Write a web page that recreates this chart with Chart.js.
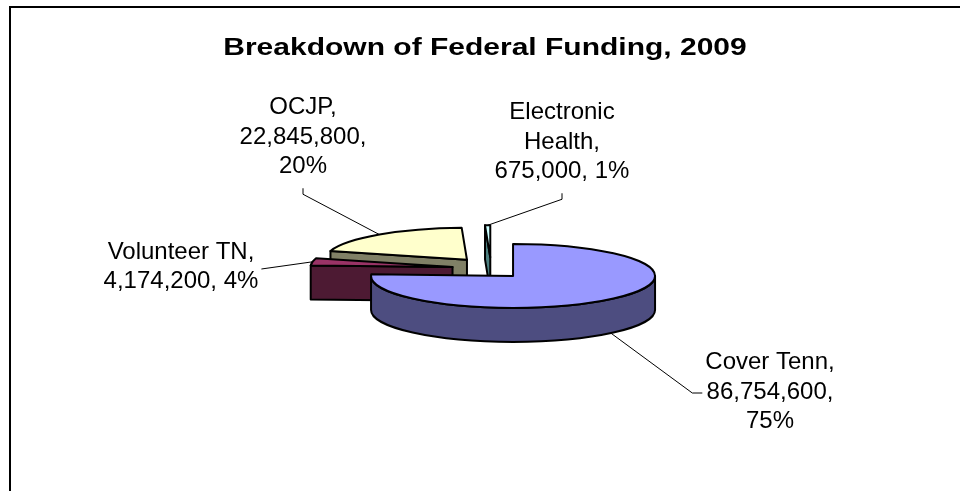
<!DOCTYPE html>
<html>
<head>
<meta charset="utf-8">
<script src="https://cdn.jsdelivr.net/npm/chart.js@4"></script>
<style>
  html, body { margin: 0; padding: 0; background: #fff; }
  #wrap { width: 960px; height: 491px; position: relative; }
</style>
</head>
<body>
<div id="wrap"><canvas id="pie"></canvas></div>
<script>
const TITLE = 'Breakdown of Federal Funding, 2009';
const categories = ['Cover Tenn', 'Volunteer TN', 'OCJP', 'Electronic Health'];
const funding = [86754600, 4174200, 22845800, 675000];
const percentLabels = [75, 4, 20, 1];

const topColors = ['#9999FF', '#993366', '#FFFFCC', '#CCFFFF'];
const sideColors = ['#4D4D80', '#4D1A33', '#808066', '#4D8080'];
const explode = [32, 39, 39, 39];

// centre of each label block, and from which side its leader line comes in
const labelLayout = [
  { x: 770, y: 392, side: 'left' },
  { x: 181, y: 267, side: 'right' },
  { x: 303, y: 137, side: 'bottom' },
  { x: 562, y: 142, side: 'bottom' }
];

const TILT = 32 / 142;   // squash of the pie top
const DEPTH = 34;        // thickness of the pie
const OFF_Y = 0.3;       // how much of the explode shows vertically
const FONT = '"Liberation Sans", Arial, sans-serif';
const LABEL_PX = 24, LINE_H = 29.5, WRAP = 155;

function labelText(i) {
  return categories[i] + ', ' + funding[i].toLocaleString('en-US') + ', ' + percentLabels[i] + '%';
}

function wrapLines(ctx, text) {
  const words = text.split(' ');
  const lines = [];
  let cur = '';
  words.forEach(w => {
    const test = cur ? cur + ' ' + w : w;
    if (cur && ctx.measureText(test).width > WRAP) {
      lines.push(cur);
      cur = w;
    } else cur = test;
  });
  if (cur) lines.push(cur);
  return lines;
}

function pt(s, a) {
  return [s.cx + s.rx * Math.cos(a), s.cy + s.ry * Math.sin(a)];
}

const pie3d = {
  id: 'pie3d',
  beforeDraw(chart) {
    const ctx = chart.ctx;
    ctx.save();
    ctx.fillStyle = '#fff';
    ctx.fillRect(0, 0, chart.width, chart.height);
    ctx.strokeStyle = '#000';
    ctx.lineWidth = 2;
    ctx.strokeRect(10, 7, chart.width + 40, chart.height + 40);
    ctx.font = 'bold 24px ' + FONT;
    ctx.textAlign = 'center';
    ctx.textBaseline = 'alphabetic';
    ctx.fillStyle = '#000';
    ctx.translate(485, 55);
    ctx.scale(1.25, 1);
    ctx.fillText(TITLE, 0, 0);
    ctx.restore();
  },
  beforeDatasetsDraw() {
    return false;
  },
  afterDraw(chart) {
    const ctx = chart.ctx;
    const meta = chart.getDatasetMeta(0);
    const slices = meta.data.map((arc, i) => {
      const p = arc.getProps(['x', 'y', 'startAngle', 'endAngle', 'outerRadius'], true);
      const mid = (p.startAngle + p.endAngle) / 2;
      const off = arc.options.offset || 0;
      return {
        i, mid,
        a0: p.startAngle, a1: p.endAngle,
        cx: p.x + Math.cos(mid) * off,
        cy: p.y + Math.sin(mid) * off * OFF_Y,
        rx: p.outerRadius,
        ry: p.outerRadius * TILT
      };
    });

    ctx.save();
    ctx.lineJoin = 'round';
    ctx.strokeStyle = '#000';
    ctx.lineWidth = 2;

    const order = slices.slice().sort((a, b) =>
      (a.cy + a.ry * Math.sin(a.mid) * 0.5) - (b.cy + b.ry * Math.sin(b.mid) * 0.5));

    order.forEach(s => {
      const side = sideColors[s.i];
      // radial cut faces that look towards the viewer
      [[s.a0, Math.cos(s.a0) < -1e-6], [s.a1, Math.cos(s.a1) > 1e-6]].forEach(([a, vis]) => {
        if (!vis) return;
        const [x, y] = pt(s, a);
        ctx.beginPath();
        ctx.moveTo(s.cx, s.cy);
        ctx.lineTo(x, y);
        ctx.lineTo(x, y + DEPTH);
        ctx.lineTo(s.cx, s.cy + DEPTH);
        ctx.closePath();
        ctx.fillStyle = side;
        ctx.fill();
        ctx.stroke();
      });
      // outer wall on the front half
      const w0 = Math.max(s.a0, 0), w1 = Math.min(s.a1, Math.PI);
      if (w1 > w0) {
        ctx.beginPath();
        ctx.ellipse(s.cx, s.cy, s.rx, s.ry, 0, w0, w1);
        const [x1, y1] = pt(s, w1);
        ctx.lineTo(x1, y1 + DEPTH);
        ctx.ellipse(s.cx, s.cy + DEPTH, s.rx, s.ry, 0, w1, w0, true);
        ctx.closePath();
        ctx.fillStyle = side;
        ctx.fill();
        ctx.stroke();
      }
      // top face
      ctx.beginPath();
      ctx.moveTo(s.cx, s.cy);
      ctx.ellipse(s.cx, s.cy, s.rx, s.ry, 0, s.a0, s.a1);
      ctx.closePath();
      ctx.fillStyle = topColors[s.i];
      ctx.fill();
      ctx.stroke();
    });

    // data labels with leader lines
    ctx.font = LABEL_PX + 'px ' + FONT;
    ctx.textAlign = 'center';
    ctx.textBaseline = 'middle';
    ctx.lineWidth = 1;
    slices.forEach(s => {
      const lay = labelLayout[s.i];
      const lines = wrapLines(ctx, labelText(s.i));
      const maxW = Math.max(...lines.map(l => ctx.measureText(l).width));
      const n = lines.length;
      ctx.fillStyle = '#000';
      lines.forEach((l, j) => ctx.fillText(l, lay.x, lay.y + (j - (n - 1) / 2) * LINE_H));

      let [sx, sy] = pt(s, s.mid);
      if (Math.sin(s.mid) > 0) sy += DEPTH;
      const pts = [[sx, sy]];
      if (lay.side === 'left') {
        const left = lay.x - maxW / 2;
        pts.push([left - 13, lay.y + 1], [left - 3, lay.y + 1]);
      } else if (lay.side === 'right') {
        pts.push([lay.x + maxW / 2 + 3, lay.y + 2]);
      } else {
        const bottom = lay.y + n * LINE_H / 2;
        pts.push([lay.x, bottom + 13], [lay.x, bottom + 7]);
      }
      ctx.beginPath();
      ctx.moveTo(pts[0][0], pts[0][1]);
      pts.slice(1).forEach(p => ctx.lineTo(p[0], p[1]));
      ctx.strokeStyle = '#000';
      ctx.stroke();
    });
    ctx.restore();
  }
};

new Chart(document.getElementById('pie'), {
  type: 'pie',
  data: {
    labels: categories,
    datasets: [{
      data: funding,
      backgroundColor: topColors,
      borderColor: '#000',
      borderWidth: 2,
      offset: explode
    }]
  },
  options: {
    responsive: true,
    maintainAspectRatio: false,
    animation: false,
    radius: 142,
    layout: { padding: { left: 22, right: 0, top: 47, bottom: 0 } },
    plugins: {
      legend: { display: false },
      tooltip: { enabled: false },
      title: { display: false }
    }
  },
  plugins: [pie3d]
});
</script>
</body>
</html>
